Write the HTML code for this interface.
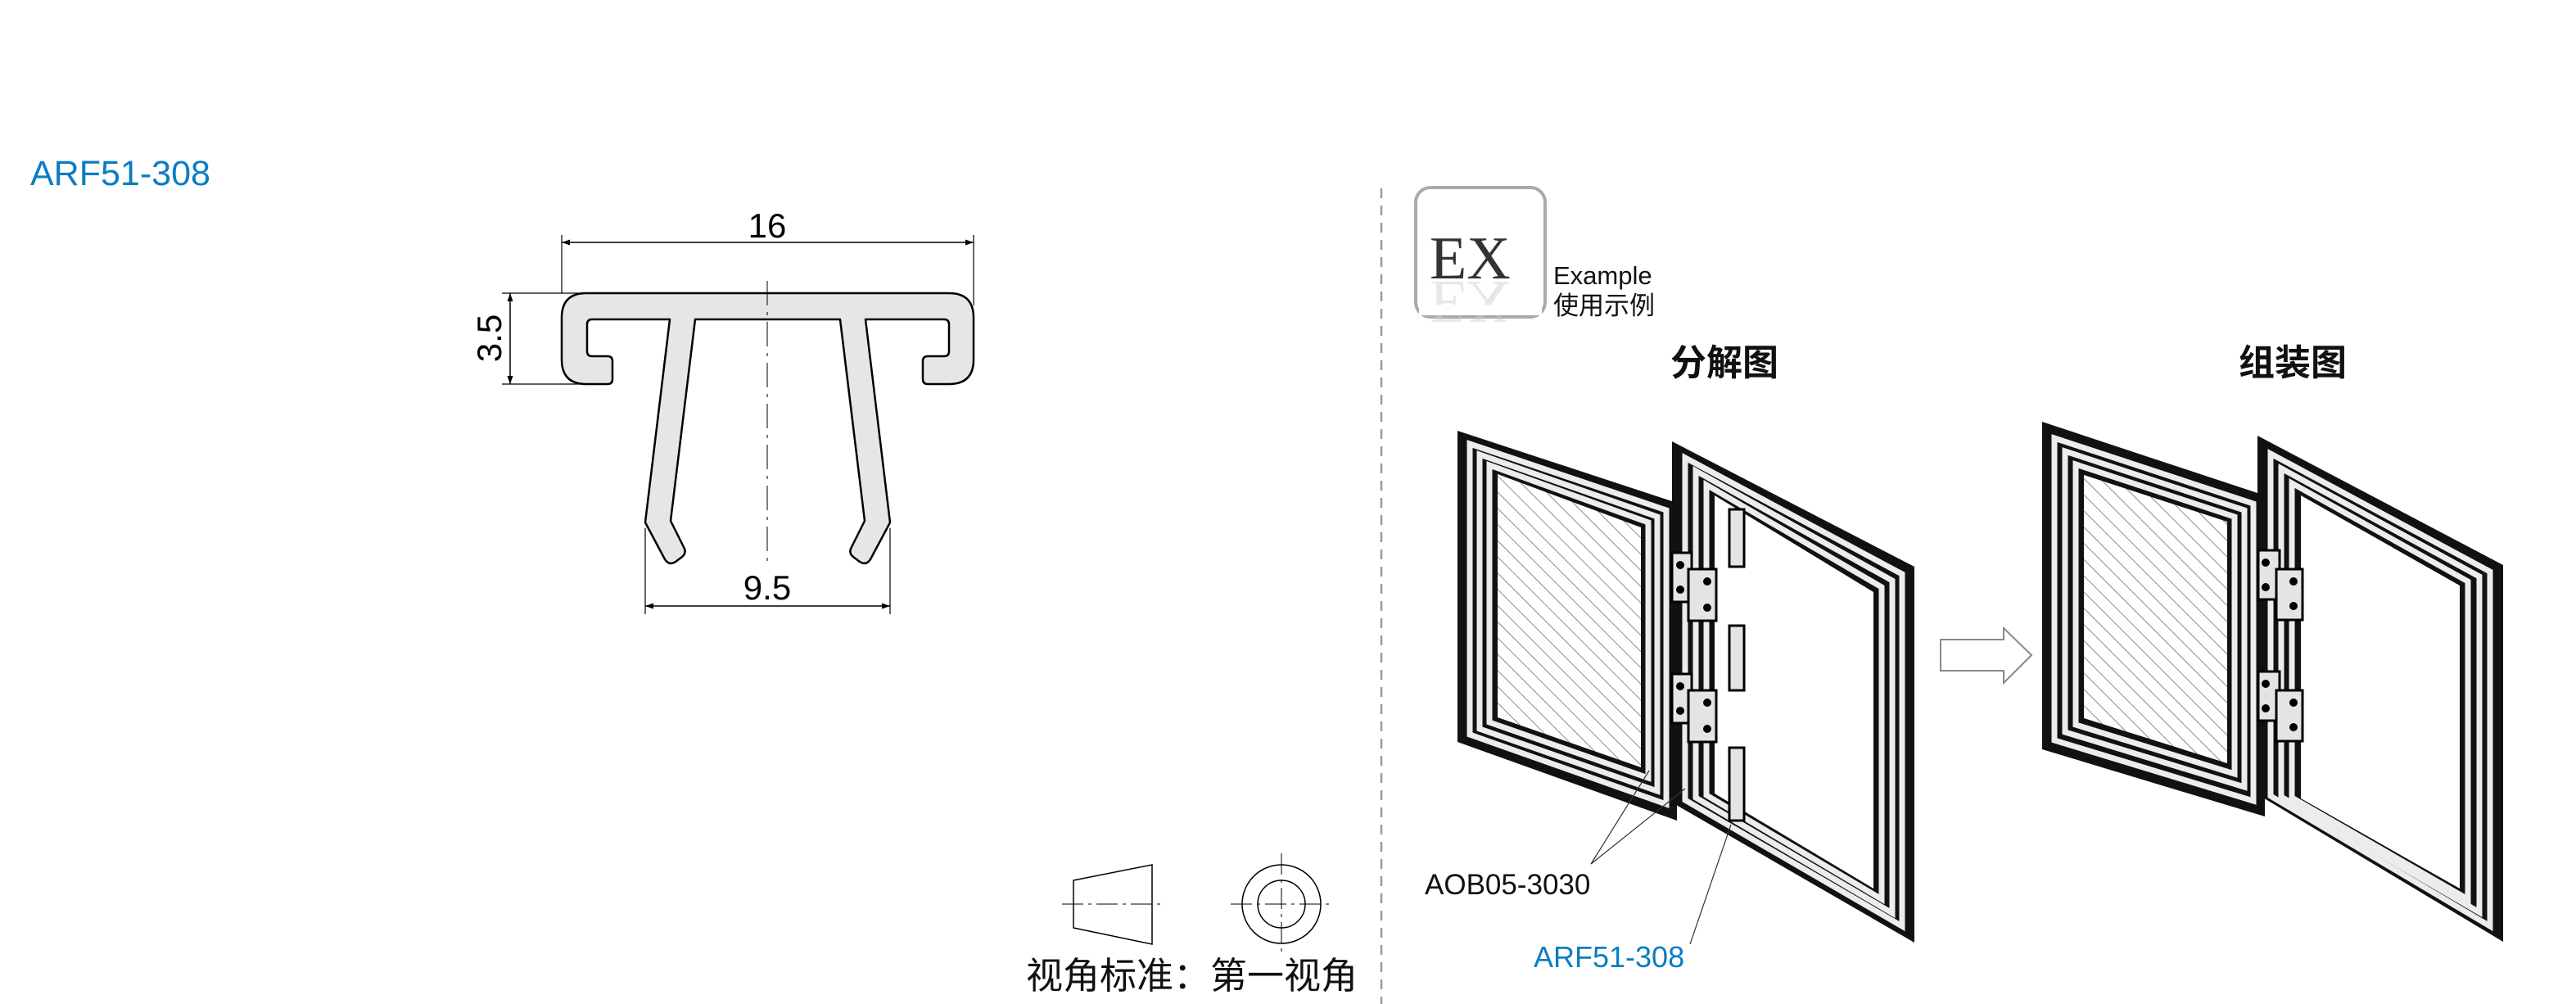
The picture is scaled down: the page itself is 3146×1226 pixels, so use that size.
<!DOCTYPE html>
<html><head><meta charset="utf-8"><style>
html,body{margin:0;padding:0;background:#fff;}
body{width:3146px;height:1226px;overflow:hidden;position:relative;}
svg{position:absolute;left:0;top:0;}
</style></head><body>
<svg width="3146" height="1226" viewBox="0 0 3146 1226" xmlns="http://www.w3.org/2000/svg">
<defs>
<pattern id="hatch" patternUnits="userSpaceOnUse" width="14" height="14" patternTransform="rotate(-45)">
<rect width="14" height="14" fill="#fff"/><line x1="0" y1="0" x2="0" y2="14" stroke="#666" stroke-width="1.5"/>
</pattern>
<marker id="ar" viewBox="0 0 10 10" refX="10" refY="5" markerWidth="26" markerHeight="10" markerUnits="userSpaceOnUse" orient="auto-start-reverse"><path d="M0,1.5 L10,5 L0,8.5 Z" fill="#000"/></marker>
</defs>

<!-- title -->
<text x="37" y="226" font-family="Liberation Sans, sans-serif" font-size="43" fill="#0a7dc2">ARF51-308</text>

<!-- profile -->
<g fill="none" stroke="#000">
<line x1="686" y1="287" x2="686" y2="358" stroke-width="1.2"/>
<line x1="1189" y1="287" x2="1189" y2="373" stroke-width="1.2"/>
<line x1="686" y1="296" x2="1189" y2="296" stroke-width="1.5" marker-start="url(#ar)" marker-end="url(#ar)"/>
<line x1="613" y1="358" x2="720" y2="358" stroke-width="1.2"/>
<line x1="613" y1="469" x2="720" y2="469" stroke-width="1.2"/>
<line x1="623" y1="358" x2="623" y2="469" stroke-width="1.5" marker-start="url(#ar)" marker-end="url(#ar)"/>
<line x1="788" y1="645" x2="788" y2="750" stroke-width="1.2"/>
<line x1="1087" y1="645" x2="1087" y2="750" stroke-width="1.2"/>
<line x1="788" y1="740" x2="1087" y2="740" stroke-width="1.5" marker-start="url(#ar)" marker-end="url(#ar)"/>
</g>
<path d="M716,358 L1159,358 Q1189,358 1189,388 L1189,439 Q1189,469 1159,469 L1133,469 Q1127,469 1127,463 L1127,441 Q1127,435 1133,435 L1153,435 Q1159,435 1159,429 L1159,396 Q1159,390 1153,390 L1057,390 L1087,638 L1063,683 Q1058,691 1050,686 L1042,680 Q1036,675 1040,668 L1056,636 L1026,390 L849,390 L819,636 L835,668 Q839,675 833,680 L825,686 Q817,691 812,683 L788,638 L818,390 L723,390 Q717,390 717,396 L717,429 Q717,435 723,435 L742,435 Q748,435 748,441 L748,463 Q748,469 742,469 L716,469 Q686,469 686,439 L686,388 Q686,358 716,358 Z" fill="#e6e6e8" stroke="#000" stroke-width="2.5" stroke-linejoin="round"/>
<line x1="937" y1="343" x2="937" y2="690" stroke="#000" stroke-width="1" stroke-dasharray="30,8,4,8"/>
<text x="937" y="290" text-anchor="middle" font-family="Liberation Sans, sans-serif" font-size="42">16</text>
<text x="937" y="732" text-anchor="middle" font-family="Liberation Sans, sans-serif" font-size="42">9.5</text>
<text transform="translate(612,413) rotate(-90)" text-anchor="middle" font-family="Liberation Sans, sans-serif" font-size="42">3.5</text>

<!-- projection symbol -->
<g fill="none" stroke="#000" stroke-width="1.5">
<polygon points="1311,1075 1407,1056 1407,1153 1311,1133"/>
<circle cx="1565" cy="1104" r="48"/><circle cx="1565" cy="1104" r="29"/>
</g>
<g stroke="#000" stroke-width="1" stroke-dasharray="26,6,4,6">
<line x1="1297" y1="1104" x2="1422" y2="1104"/>
<line x1="1503" y1="1104" x2="1628" y2="1104"/>
<line x1="1565" y1="1042" x2="1565" y2="1167"/>
</g>
<text x="1253" y="1207" font-family="Liberation Sans, Noto Sans CJK SC, sans-serif" font-size="45" fill="#111">视角标准：第一视角</text>

<!-- divider -->
<line x1="1687" y1="230" x2="1687" y2="1226" stroke="#999" stroke-width="2.5" stroke-dasharray="12,9"/>

<!-- EX box -->
<rect x="1729" y="229" width="158" height="158" rx="18" fill="#fff" stroke="#aaa" stroke-width="4"/>
<text x="1746" y="340" font-family="Liberation Serif, serif" font-size="74" fill="#333">EX</text>
<text x="1746" y="344" transform="translate(0,688) scale(1,-1)" font-family="Liberation Serif, serif" font-size="74" fill="#ccc" opacity="0.45">EX</text>
<rect x="1733" y="372" width="150" height="13" fill="#fff"/>
<text x="1897" y="347" font-family="Liberation Sans, sans-serif" font-size="31" fill="#111">Example</text>
<text x="1897" y="384" font-family="Liberation Sans, Noto Sans CJK SC, sans-serif" font-size="31" fill="#111">使用示例</text>
<text x="2040" y="458" font-family="Liberation Sans, Noto Sans CJK SC, sans-serif" font-weight="bold" font-size="44" fill="#111">分解图</text>
<text x="2734" y="458" font-family="Liberation Sans, Noto Sans CJK SC, sans-serif" font-weight="bold" font-size="44" fill="#111">组装图</text>

<!-- exploded left frame -->
<polygon points="1829,579 2004,644 2004,937 1829,876" fill="url(#hatch)"/>
<path fill-rule="evenodd" fill="#111" d="M1780,526 L2048,614 L2048,1002 L1780,906 Z M1829,579 L2004,644 L2004,937 L1829,876 Z"/>
<g fill="none" stroke="#ececec" stroke-width="7">
<polygon points="1795,542 2035,623 2035,982 1795,897"/>
<polygon points="1807,555 2024,631 2024,966 1807,890"/>
<polygon points="1819,568 2013,638 2013,950 1819,882"/>
</g>
<!-- exploded right frame -->
<path fill-rule="evenodd" fill="#111" d="M2042,539 L2338,692 L2338,1151 L2042,980 Z M2094,605 L2288,723 L2288,1085 L2094,969 Z"/>
<g fill="none" stroke="#ececec" stroke-width="7">
<polygon points="2058,559 2323,701 2323,1131 2058,977"/>
<polygon points="2071,575 2311,709 2311,1115 2071,974"/>
<polygon points="2084,592 2298,717 2298,1098 2084,971"/>
</g>
<g fill="#e4e4e4" stroke="#000" stroke-width="3">
<rect x="2112" y="622" width="18" height="70"/>
<rect x="2112" y="764" width="18" height="79"/>
<rect x="2112" y="913" width="18" height="89"/>
<rect x="2042" y="675" width="24" height="60"/><rect x="2062" y="695" width="34" height="63"/>
<rect x="2042" y="823" width="24" height="60"/><rect x="2062" y="843" width="34" height="63"/>
</g>
<g fill="#000">
<circle cx="2052" cy="690" r="5"/><circle cx="2052" cy="720" r="5"/><circle cx="2085" cy="710" r="5"/><circle cx="2085" cy="742" r="5"/>
<circle cx="2052" cy="838" r="5"/><circle cx="2052" cy="868" r="5"/><circle cx="2085" cy="858" r="5"/><circle cx="2085" cy="890" r="5"/>
</g>
<g stroke="#333" stroke-width="1.2" fill="none">
<polyline points="2014,941 1943,1055 2058,963"/>
<line x1="2064" y1="1153" x2="2114" y2="1007"/>
</g>
<text x="1740" y="1092" font-family="Liberation Sans, sans-serif" font-size="35" fill="#111">AOB05-3030</text>
<text x="1873" y="1181" font-family="Liberation Sans, sans-serif" font-size="36" fill="#0a7dc2">ARF51-308</text>

<!-- arrow -->
<polygon points="2370,781 2447,781 2447,767 2481,800 2447,834 2447,819 2370,819" fill="#fff" stroke="#888" stroke-width="2"/>

<!-- assembled left frame -->
<polygon points="2545,580 2720,637 2720,932 2545,877" fill="url(#hatch)"/>
<path fill-rule="evenodd" fill="#111" d="M2494,515 L2766,605 L2766,997 L2494,915 Z M2545,580 L2720,637 L2720,932 L2545,877 Z"/>
<g fill="none" stroke="#ececec" stroke-width="7">
<polygon points="2509,535 2752,615 2752,978 2509,904"/>
<polygon points="2522,551 2741,623 2741,961 2522,894"/>
<polygon points="2535,567 2729,631 2729,945 2535,885"/>
</g>
<!-- assembled right frame -->
<path fill-rule="evenodd" fill="#111" d="M2757,532 L3057,690 L3057,1150 L2757,970 Z M2810,605 L3004,715 L3004,1085 L2810,975 Z"/>
<g fill="none" stroke="#ececec" stroke-width="7">
<polygon points="2773,554 3041,698 3041,1131 2773,972"/>
<polygon points="2786,572 3028,704 3028,1114 2786,973"/>
<polygon points="2799,590 3014,710 3014,1098 2799,974"/>
</g>
<g fill="#e4e4e4" stroke="#000" stroke-width="3">
<rect x="2758" y="672" width="26" height="60"/><rect x="2780" y="695" width="32" height="62"/>
<rect x="2758" y="820" width="26" height="60"/><rect x="2780" y="843" width="32" height="62"/>
</g>
<g fill="#000">
<circle cx="2767" cy="687" r="5"/><circle cx="2767" cy="717" r="5"/><circle cx="2801" cy="710" r="5"/><circle cx="2801" cy="740" r="5"/>
<circle cx="2767" cy="835" r="5"/><circle cx="2767" cy="865" r="5"/><circle cx="2801" cy="858" r="5"/><circle cx="2801" cy="888" r="5"/>
</g>
</svg>
</body></html>
